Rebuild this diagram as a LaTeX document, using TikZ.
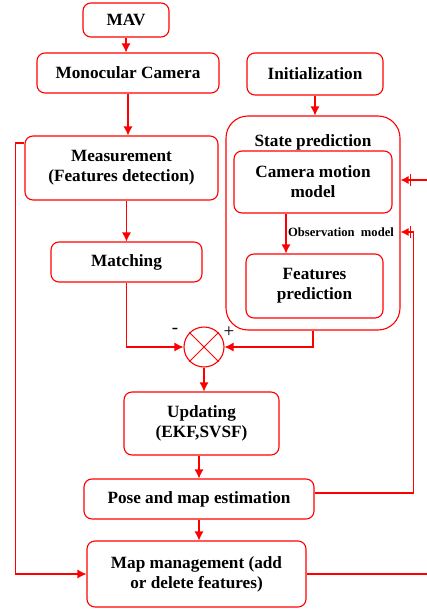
\documentclass[tikz,border=0pt]{standalone}
\usepackage{fontspec}
\setmainfont{Liberation Serif}
\usetikzlibrary{arrows.meta}
\tikzset{
  box/.style={draw=red, line width=1.1pt, rounded corners=8pt, align=center,
    inner sep=0pt, font=\fontsize{17.2}{20}\selectfont\bfseries},
  arr/.style={draw=red, line width=1.1pt, -{Latex[length=9pt,width=9pt]}},
  fb/.style={draw=red, line width=1.1pt, -{Bar[width=12pt,line width=1.2pt,sep=1.5pt]Latex[length=8pt,width=8pt]}},
  sign/.style={font=\fontsize{19}{20}\selectfont}
}
\begin{document}
\begin{tikzpicture}[x=1pt,y=-1pt]
  \useasboundingbox (0,0) rectangle (427,610);
  % left column
  \node[box, minimum width=86pt, minimum height=34pt] (mav) at (126,20) {MAV};
  \node[box, minimum width=182pt, minimum height=40pt] (mono) at (128,73) {Monocular Camera};
  \node[box, minimum width=193pt, minimum height=64pt] (meas) at (121.5,168) {Measurement\\(Features detection)};
  \node[box, minimum width=151pt, minimum height=40pt] (match) at (126.5,262) {Matching};
  % right column
  \node[box, minimum width=136pt, minimum height=42pt] (init) at (315,74) {Initialization};
  \node[box, rounded corners=22pt, minimum width=174pt, minimum height=214pt] (state) at (313,223) {};
  \node[font=\fontsize{17.2}{20}\selectfont\bfseries] (sttitle) at (313,142) {State prediction};
  \node[box, minimum width=158pt, minimum height=62pt] (cam) at (313,182) {Camera motion\\model};
  \node[box, minimum width=137pt, minimum height=64pt] (feat) at (314.5,286) {Features\\prediction};
  \node[font=\fontsize{12.6}{14}\selectfont\bfseries] (obs) at (341,232) {Observation\hspace{0.5em}model};
  % comparator
  \node[draw=red, line width=1.1pt, circle, minimum size=40pt, inner sep=0pt] (sum) at (204,347) {};
  \draw[red, line width=0.8pt] (sum.north west) -- (sum.south east) (sum.north east) -- (sum.south west);
  \node[sign] (minus) at (175,331) {-};
  \node[sign] (plus) at (229,332) {+};
  % lower column
  \node[box, minimum width=155pt, minimum height=63pt] (upd) at (201.5,423.5) {Updating\\(EKF,SVSF)};
  \node[box, minimum width=230pt, minimum height=40pt] (pose) at (199,499) {Pose and map estimation};
  \node[box, minimum width=219pt, minimum height=66pt] (mapm) at (196.5,574) {Map management (add\\or delete features)};
  % connectors
  \draw[arr] (mav) -- (mav |- mono.north);
  \draw[arr] (mono.south) -- (mono.south |- meas.north);
  \draw[arr] (match.north |- meas.south) -- (match.north);
  \draw[arr] (match.south) |- (sum.west);
  \draw[arr] (state.south) |- (sum.east);
  \draw[arr] (init.south |- init.south) -- (init.south |- state.north);
  \draw[arr] ([xshift=-27pt]cam.south) -- ([xshift=-27pt]cam.south |- feat.north);
  \draw[arr] (sum) -- (sum |- upd.north);
  \draw[arr] (upd.south -| pose) -- (pose.north);
  \draw[arr] (pose) -- (pose |- mapm.north);
  % feedback lines
  \draw[arr] ([yshift=25pt]meas.west) -- ++(-9,0) |- (mapm.west);
  \draw[fb] ([yshift=6pt]pose.east) -| ([xshift=13pt,yshift=-9pt]state.east) -- ([yshift=-9pt]state.east);
  \draw[fb] (mapm.east) -| ([xshift=35pt,yshift=43pt]state.east) -- ([yshift=43pt]state.east);
\end{tikzpicture}
\end{document}
